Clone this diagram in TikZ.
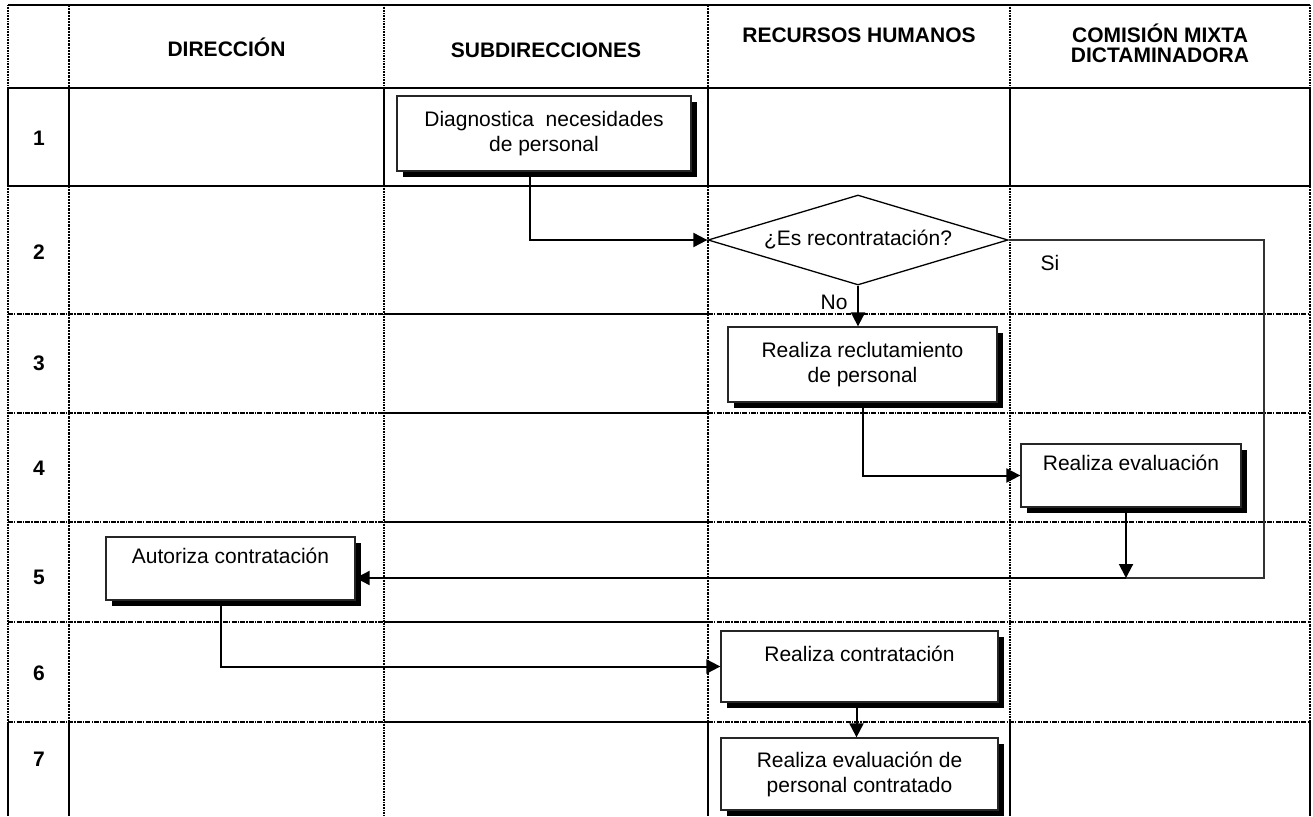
\documentclass[tikz,border=0pt]{standalone}
\usepackage{fontspec}
\setmainfont{Liberation Sans}
\usetikzlibrary{shapes.geometric,arrows.meta,shadows}
\begin{document}
\begin{tikzpicture}[x=1pt,y=-1pt,
 sol/.style={line width=1.8pt},
 fdot/.style={line width=1.3pt, dash pattern=on 1pt off 0.6pt},
 tdot/.style={line width=2.2pt, dash pattern=on 2.2pt off 1pt},
 ddot/.style={line width=1.5pt, dash pattern=on 5pt off 1.2pt on 1.2pt off 1.2pt},
 box/.style={draw=black!85, line width=1.3pt, fill=white, inner sep=0pt, align=center, font=\fontsize{21}{25}\selectfont, general shadow={fill=black, shadow xshift=6pt, shadow yshift=-6pt}},
 conn/.style={line width=2pt},
 thin/.style={line width=1.4pt, black!80},
 arr/.style={conn, -{Triangle[length=14pt,width=14pt]}},
 hdr/.style={font=\bfseries\fontsize{21}{20}\selectfont, align=center},
 num/.style={font=\bfseries\fontsize{21}{24}\selectfont},
 lbl/.style={font=\fontsize{21}{24}\selectfont},
]
\useasboundingbox (0,0) rectangle (1313,816);

% horizontal grid lines
\draw[sol] (8,5) -- (1310,5);
\draw[sol] (8,88) -- (1310,88);
\draw[sol] (8,186) -- (1310,186);
\foreach \y in {314,413,522,622,722} {
  \draw[ddot] (8,\y) -- (384,\y);
  \draw[sol] (384,\y) -- (708,\y);
  \draw[ddot] (708,\y) -- (1310,\y);
}
% vertical grid lines
\draw[fdot] (8,5) -- (8,88);   \draw[sol] (8,88) -- (8,186);   \draw[fdot] (8,186) -- (8,722);   \draw[sol] (8,722) -- (8,816);
\draw[tdot] (69,5) -- (69,88); \draw[sol] (69,88) -- (69,186); \draw[tdot] (69,186) -- (69,722); \draw[sol] (69,722) -- (69,816);
\draw[fdot] (384,5) -- (384,88); \draw[sol] (384,88) -- (384,186); \draw[fdot] (384,186) -- (384,816);
\draw[tdot] (708,5) -- (708,88); \draw[sol] (708,88) -- (708,186); \draw[tdot] (708,186) -- (708,722); \draw[sol] (708,722) -- (708,816);
\draw[fdot] (1010,5) -- (1010,88); \draw[sol] (1010,88) -- (1010,186); \draw[fdot] (1010,186) -- (1010,722); \draw[sol] (1010,722) -- (1010,816);
\draw[fdot] (1310,5) -- (1310,88); \draw[sol] (1310,88) -- (1310,186); \draw[tdot] (1310,186) -- (1310,722); \draw[sol] (1310,722) -- (1310,816);

% headers
\node[hdr] (h1) at (226.5,47) {DIRECCIÓN};
\node[hdr] (h2) at (546,50) {SUBDIRECCIONES};
\node[hdr] (h3) at (859,35) {RECURSOS HUMANOS};
\node[hdr] (h4) at (1160,43) {COMISIÓN MIXTA\\DICTAMINADORA};

% row numbers
\node[num] (r1) at (39,138) {1};
\node[num] (r2) at (39,252) {2};
\node[num] (r3) at (39,363) {3};
\node[num] (r4) at (39,468) {4};
\node[num] (r5) at (39,577) {5};
\node[num] (r6) at (39,673) {6};
\node[num] (r7) at (39,759) {7};

% process boxes
\node[box, minimum width=294pt, minimum height=75pt] (b1) at (544,133.5) {Diagnostica~ necesidades\\de personal};
\node[draw, line width=1.3pt, fill=white, diamond, aspect=3.3, inner sep=0pt, minimum width=300pt, minimum height=90pt, lbl] (d) at (858,240) {¿Es recontratación?};
\node[box, minimum width=269pt, minimum height=75pt] (b3) at (862.5,364.5) {Realiza reclutamiento\\de personal};
\node[box, minimum width=220pt, minimum height=63pt] (b4) at (1131,475.5) {Realiza evaluación\\\mbox{}};
\node[box, minimum width=249pt, minimum height=63pt] (b5) at (230.5,568.5) {Autoriza contratación\\\mbox{}};
\node[box, minimum width=277pt, minimum height=71pt] (b6) at (859.5,666.5) {Realiza contratación\\\mbox{}};
\node[box, minimum width=277pt, minimum height=72pt] (b7) at (859.5,774) {Realiza evaluación de\\personal contratado};

% labels
\node[lbl] (si) at (1050,263) {Si};
\node[lbl] (no) at (834,302) {No};

% connectors
\coordinate (k) at (1264,578);
\path ([xshift=-14pt]b1.south) coordinate (b1s);
\path ([xshift=-5pt]b4.south) coordinate (b4s);
\path ([xshift=-9.5pt]b5.south) coordinate (b5s);
\path ([xshift=-3pt]b6.south) coordinate (b6s);
\coordinate (j) at (b4s |- k);
\draw[arr] (b1s) |- (d.west);
\draw[arr] (d.south) -- (d.south |- b3.north);
\draw[thin] (d.east) -| (k) -- (j);
\draw[arr] (j) -- (k -| b5.east);
\draw[arr] (b3.south) |- (b4.west);
\draw[arr] (b4s) -- (j);
\draw[arr] (b5s) |- (b6.west);
\draw[arr] (b6s) -- (b6s |- b7.north);
\end{tikzpicture}
\end{document}
